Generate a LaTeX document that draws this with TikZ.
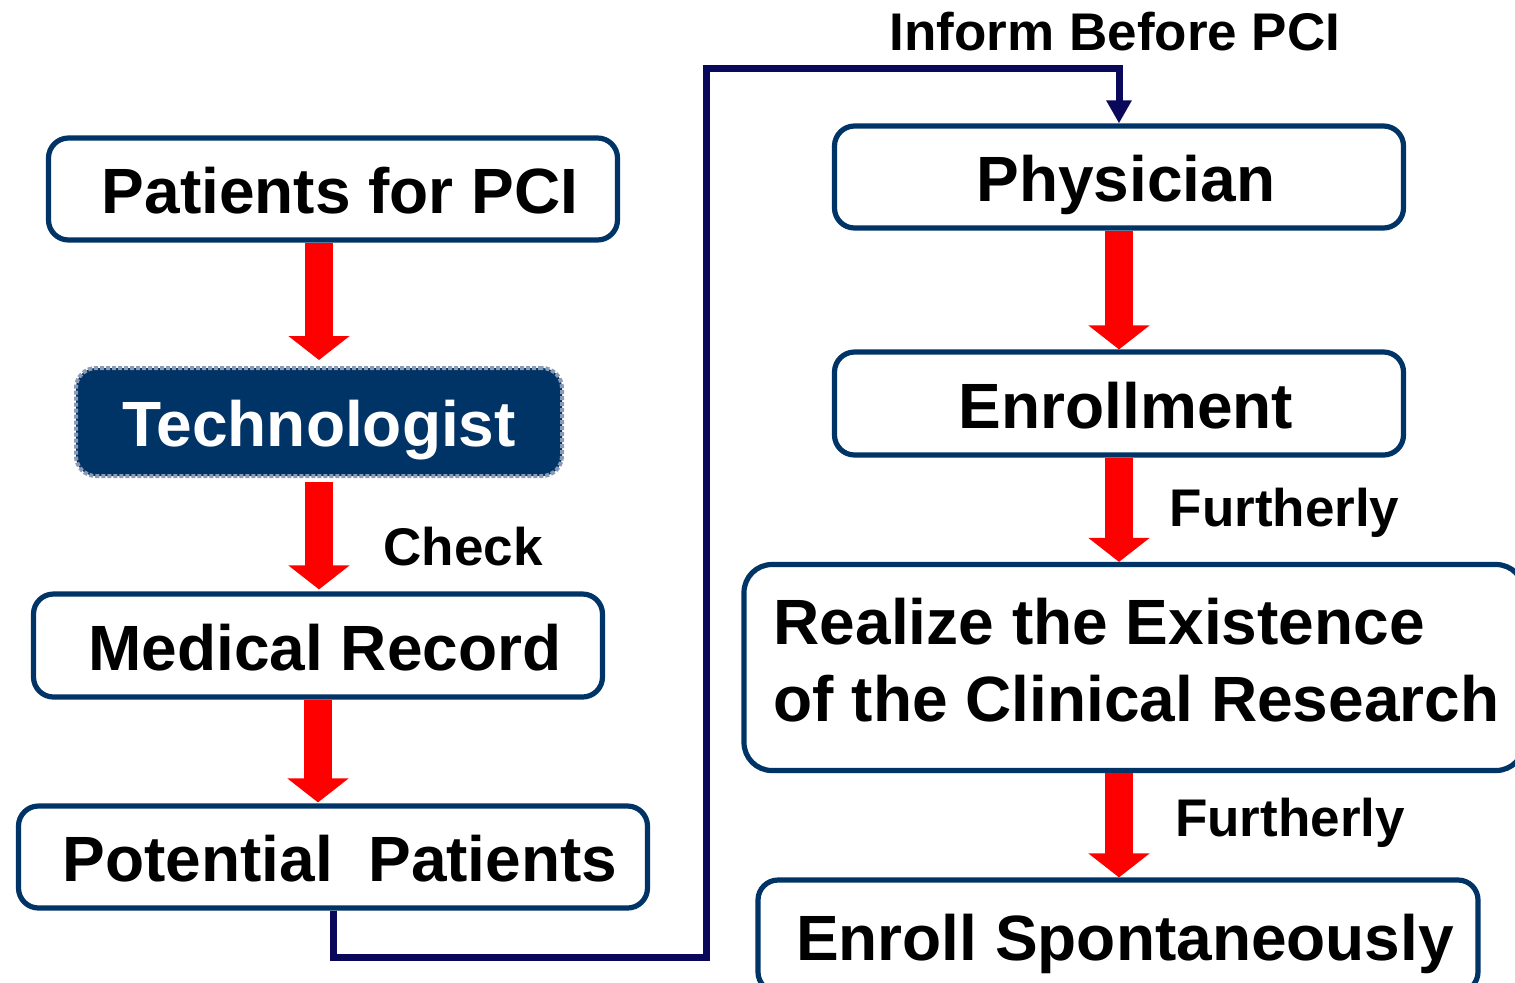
\documentclass[tikz,border=0pt]{standalone}
\usepackage{fontspec}
\setmainfont{Liberation Sans}
\usetikzlibrary{arrows.meta}
\definecolor{boxblue}{RGB}{0,51,102}
\definecolor{navyline}{RGB}{10,8,90}
\definecolor{glow}{RGB}{140,155,180}
\tikzset{
  boxbase/.style={draw=boxblue, line width=2.6pt, rounded corners=10pt, fill=white,
    font=\fontsize{32}{38.5}\selectfont\bfseries, text=black, inner sep=0pt},
  box/.style={boxbase, text height=24.9pt, text depth=0pt, execute at begin node={\kern7pt}},
  darkbox/.style={boxbase, text height=24.9pt, text depth=0pt, fill=boxblue, draw=glow,
    line width=2pt, densely dotted, text=white},
  lbl/.style={font=\fontsize{26.5}{31}\selectfont\bfseries, text=black, inner sep=0pt},
  redarrow/.style={draw=red, line width=14pt, -{Triangle[width=30pt,length=12pt]}},
  navyarrow/.style={draw=navyline, line width=3.5pt, -{Triangle[width=12pt,length=11.5pt]}}
}
\begin{document}
\begin{tikzpicture}[x=0.5pt, y=-0.5pt]
\clip (0,0) rectangle (1515,982);
\useasboundingbox (0,0) rectangle (1515,982);
\fill[white] (0,0) rectangle (1515,982);

\node[box, minimum width=284.5pt, minimum height=51pt] (pat) at (333,189) {Patients for PCI};
\node[darkbox, minimum width=243pt, minimum height=54pt] (tech) at (319,422) {Technologist};
\node[box, minimum width=284.5pt, minimum height=51.5pt] (med) at (318,645.5) {Medical Record};
\node[box, minimum width=314.5pt, minimum height=51pt] (pot) at (333,857) {Potential\ \ Patients};

\node[box, minimum width=284.5pt, minimum height=51pt] (phys) at (1119,177) {Physician};
\node[box, minimum width=284.5pt, minimum height=51.5pt] (enr) at (1119,403.5) {Enrollment};
\node[boxbase, rounded corners=14pt, minimum width=390pt, minimum height=103pt] (real) at (1134,667.5)
  {\kern2.5pt\raisebox{-1pt}{\begin{tabular}{@{}l@{}}Realize the Existence\\of the Clinical Research\end{tabular}}};
\node[box, minimum width=360pt, minimum height=56pt] (enro) at (1118,936) {Enroll Spontaneously};

% red arrows
\draw[redarrow] (pat.south -| tech.north) -- ([yshift=3pt]tech.north);
\draw[redarrow] ([yshift=-2pt]tech.south) -- ([yshift=1pt]med.north -| tech.south);
\draw[redarrow] (med.south) -- ([yshift=0.5pt]pot.north -| med.south);
\draw[redarrow] (phys.south) -- (enr.north);
\draw[redarrow] (enr.south) -- (real.north -| enr.south);
\draw[redarrow] (real.south -| enr.south) -- (enro.north -| enr.south);

% labels
\node[lbl] (check) at (463,547) {Check};
\node[lbl] (f1) at (1284.5,513) {Furtherly};
\node[lbl] (f2) at (1290,823) {Furtherly};
\node[lbl] (inform) at (1115,32) {Inform Before PCI};

% navy connector
\coordinate (bl) at (706,957);
\coordinate (tl) at (706,68);
\draw[navyarrow] (pot.south) |- (bl) -- (tl) -| (phys.north);
\end{tikzpicture}
\end{document}
